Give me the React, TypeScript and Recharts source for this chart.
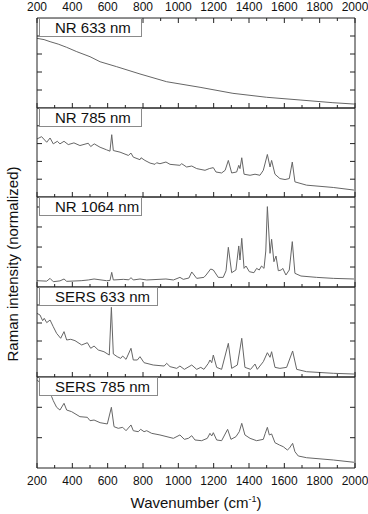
import { LineChart, Line, XAxis, YAxis } from "recharts";

// wavenumber ticks (every 100, labelled every 200)
const xTicks = [200, 300, 400, 500, 600, 700, 800, 900, 1000, 1100, 1200, 1300, 1400, 1500, 1600, 1700, 1800, 1900, 2000];

const panelNames = ["NR 633 nm", "NR 785 nm", "NR 1064 nm", "SERS 633 nm", "SERS 785 nm"];

// [wavenumber, normalized intensity]
const nr633: [number, number][] = [
  [200, 0.774], [240, 0.76], [274, 0.737], [320, 0.71], [368, 0.674], [425, 0.626], [500, 0.57], [557, 0.514],
  [651, 0.459], [783, 0.378], [934, 0.292], [1123, 0.23], [1309, 0.163], [1500, 0.119], [1689, 0.089],
  [1875, 0.059], [1994, 0.044],
];

const nr785: [number, number][] = [
  [200, 0.652], [226, 0.678], [255, 0.615], [274, 0.663], [292, 0.597], [315, 0.626], [330, 0.597], [353, 0.626],
  [377, 0.589], [409, 0.608], [443, 0.578], [490, 0.604], [504, 0.567], [524, 0.597], [557, 0.559], [594, 0.53],
  [613, 0.515], [623, 0.7], [632, 0.522], [670, 0.504], [717, 0.467], [732, 0.493], [745, 0.448], [783, 0.419],
  [789, 0.441], [811, 0.411], [840, 0.381], [868, 0.367], [877, 0.385], [896, 0.374], [930, 0.393], [953, 0.367],
  [1009, 0.356], [1019, 0.374], [1047, 0.337], [1076, 0.348], [1104, 0.319], [1151, 0.3], [1175, 0.319],
  [1198, 0.33], [1213, 0.281], [1245, 0.27], [1265, 0.3], [1283, 0.411], [1302, 0.27], [1330, 0.281], [1342, 0.356],
  [1349, 0.319], [1359, 0.441], [1372, 0.256], [1406, 0.244], [1434, 0.256], [1462, 0.244], [1481, 0.3],
  [1504, 0.478], [1519, 0.337], [1528, 0.411], [1547, 0.256], [1575, 0.207], [1604, 0.196], [1628, 0.207],
  [1645, 0.393], [1660, 0.17], [1726, 0.133], [1877, 0.107], [1994, 0.078],
];

const nr1064: [number, number][] = [
  [200, 0.07], [255, 0.065], [274, 0.096], [292, 0.059], [330, 0.068], [353, 0.089], [368, 0.063], [450, 0.07],
  [490, 0.078], [523, 0.089], [594, 0.07], [613, 0.072], [623, 0.163], [632, 0.078], [689, 0.085], [720, 0.08],
  [732, 0.104], [745, 0.078], [783, 0.089], [821, 0.078], [930, 0.089], [972, 0.078], [1009, 0.107], [1028, 0.085],
  [1060, 0.1], [1076, 0.167], [1104, 0.096], [1145, 0.107], [1157, 0.133], [1183, 0.2], [1198, 0.189], [1226, 0.107],
  [1254, 0.107], [1270, 0.18], [1283, 0.441], [1302, 0.159], [1326, 0.189], [1342, 0.456], [1349, 0.3], [1359, 0.541],
  [1372, 0.207], [1383, 0.233], [1402, 0.17], [1428, 0.159], [1443, 0.207], [1458, 0.189], [1471, 0.233],
  [1485, 0.207], [1495, 0.4], [1504, 0.893], [1519, 0.374], [1528, 0.53], [1541, 0.281], [1553, 0.344],
  [1566, 0.181], [1583, 0.189], [1591, 0.207], [1609, 0.133], [1628, 0.189], [1645, 0.504], [1660, 0.152],
  [1694, 0.122], [1783, 0.107], [1877, 0.096], [1994, 0.089],
];

const sers633: [number, number][] = [
  [200, 0.707], [217, 0.689], [232, 0.626], [241, 0.652], [255, 0.604], [274, 0.633], [292, 0.559], [311, 0.485],
  [334, 0.43], [353, 0.504], [368, 0.411], [391, 0.419], [415, 0.404], [453, 0.356], [485, 0.381], [504, 0.319],
  [523, 0.344], [547, 0.3], [579, 0.281], [609, 0.244], [621, 0.774], [632, 0.256], [654, 0.226], [674, 0.207],
  [685, 0.233], [704, 0.196], [732, 0.319], [745, 0.189], [768, 0.189], [783, 0.226], [806, 0.159], [858, 0.133],
  [920, 0.122], [934, 0.152], [953, 0.115], [991, 0.096], [1009, 0.122], [1034, 0.085], [1076, 0.133], [1104, 0.085],
  [1127, 0.107], [1145, 0.085], [1170, 0.152], [1179, 0.189], [1189, 0.159], [1198, 0.244], [1217, 0.107],
  [1245, 0.085], [1283, 0.374], [1302, 0.096], [1334, 0.133], [1359, 0.43], [1377, 0.107], [1409, 0.085],
  [1434, 0.144], [1447, 0.085], [1481, 0.17], [1504, 0.27], [1519, 0.219], [1528, 0.281], [1547, 0.107],
  [1575, 0.096], [1613, 0.107], [1647, 0.289], [1670, 0.085], [1726, 0.059], [1877, 0.041], [1994, 0.033],
];

const sers785: [number, number][] = [
  [200, 0.97], [250, 0.87], [283, 0.784], [292, 0.74], [311, 0.667], [330, 0.637], [353, 0.711], [368, 0.637],
  [396, 0.619], [443, 0.564], [485, 0.557], [500, 0.52], [523, 0.527], [557, 0.498], [598, 0.484], [621, 0.667],
  [636, 0.454], [660, 0.436], [685, 0.447], [704, 0.41], [732, 0.473], [745, 0.41], [773, 0.399], [787, 0.425],
  [806, 0.399], [821, 0.41], [849, 0.381], [896, 0.363], [972, 0.326], [1009, 0.363], [1034, 0.315], [1057, 0.326],
  [1076, 0.355], [1094, 0.308], [1132, 0.3], [1164, 0.326], [1179, 0.381], [1189, 0.352], [1198, 0.388],
  [1217, 0.308], [1245, 0.3], [1279, 0.425], [1298, 0.315], [1326, 0.344], [1345, 0.399], [1359, 0.491],
  [1377, 0.363], [1406, 0.326], [1443, 0.3], [1481, 0.315], [1492, 0.381], [1504, 0.447], [1515, 0.363],
  [1528, 0.374], [1547, 0.278], [1572, 0.253], [1594, 0.234], [1617, 0.198], [1628, 0.216], [1647, 0.271],
  [1660, 0.179], [1679, 0.132], [1726, 0.113], [1877, 0.088], [1994, 0.063],
];

const series = [nr633, nr785, nr1064, sers633, sers785];

// y tick positions per panel
const yTicks = [
  [0.2, 0.4, 0.6, 0.8],
  [0.2, 0.4, 0.6, 0.8],
  [0.222, 0.444, 0.667, 0.889],
  [0.2, 0.4, 0.6, 0.8],
  [0.333, 0.667],
];

const W = 368;
const H = 514;
const LEFT = 37;
const RIGHT = 355;
const tops = [18, 108, 197, 287, 377];
const bottoms = [108, 197, 287, 377, 468];
const boxWidths = [103, 103, 103, 119, 119];

const AXIS = "#222";
const LINE = "#666";
const FONT = "Arial, 'Liberation Sans', sans-serif";

function XTick(props: any) {
  const { x, y, payload, side, labels } = props;
  const v = payload.value;
  const major = v % 200 === 0;
  const len = major ? 5 : 3;
  const dir = side === "top" ? 1 : -1;
  return (
    <g>
      <line x1={x} x2={x} y1={y} y2={y + dir * len} stroke={AXIS} strokeWidth={1} />
      {labels && major && (
        <text x={x} y={side === "top" ? y - 7.5 : y + 17} textAnchor="middle" fontSize={12} fontFamily={FONT} fill="#111">
          {v}
        </text>
      )}
    </g>
  );
}

function YTick(props: any) {
  const { x, y, side } = props;
  const dir = side === "left" ? 1 : -1;
  return <line x1={x} x2={x + dir * 5} y1={y} y2={y} stroke={AXIS} strokeWidth={1} />;
}

function Panel({ i }: { i: number }) {
  const rows = series[i].map(([w, v]) => ({ w, v }));
  const first = i === 0;
  const last = i === series.length - 1;
  return (
    <div style={{ position: "absolute", left: 0, top: 0 }}>
      <LineChart
        width={W}
        height={H}
        data={rows}
        margin={{ top: tops[i], bottom: H - bottoms[i], left: LEFT, right: W - RIGHT }}
      >
        <XAxis
          xAxisId="b"
          dataKey="w"
          type="number"
          domain={[200, 2000]}
          allowDataOverflow
          ticks={xTicks}
          interval={0}
          orientation="bottom"
          mirror
          tickSize={0}
          tickMargin={0}
          tickLine={false}
          stroke={AXIS}
          tick={(p: any) => <XTick {...p} side="bottom" labels={last} />}
        />
        <XAxis
          xAxisId="t"
          dataKey="w"
          type="number"
          domain={[200, 2000]}
          allowDataOverflow
          ticks={first ? xTicks : []}
          interval={0}
          orientation="top"
          mirror
          tickSize={0}
          tickMargin={0}
          tickLine={false}
          stroke={AXIS}
          tick={(p: any) => <XTick {...p} side="top" labels={first} />}
        />
        <YAxis
          yAxisId="l"
          type="number"
          domain={[0, 1]}
          allowDataOverflow
          ticks={yTicks[i]}
          interval={0}
          orientation="left"
          mirror
          tickSize={0}
          tickMargin={0}
          tickLine={false}
          stroke={AXIS}
          tick={(p: any) => <YTick {...p} side="left" />}
        />
        <YAxis
          yAxisId="r"
          type="number"
          domain={[0, 1]}
          allowDataOverflow
          ticks={yTicks[i]}
          interval={0}
          orientation="right"
          mirror
          tickSize={0}
          tickMargin={0}
          tickLine={false}
          stroke={AXIS}
          tick={(p: any) => <YTick {...p} side="right" />}
        />
        <Line
          xAxisId="b"
          yAxisId="l"
          type="linear"
          dataKey="v"
          stroke={LINE}
          strokeWidth={1}
          dot={false}
          isAnimationActive={false}
        />
      </LineChart>
    </div>
  );
}

export default function App() {
  return (
    <div style={{ position: "absolute", left: 0, top: 0, width: W, height: H, background: "#fff", fontFamily: FONT, overflow: "hidden" }}>
      {series.map((_, i) => (
        <Panel key={i} i={i} />
      ))}
      {panelNames.map((name, i) => (
        <div
          key={name}
          style={{
            position: "absolute",
            left: 39,
            top: tops[i],
            width: boxWidths[i],
            height: 19,
            boxSizing: "border-box",
            border: "1px solid #8a8a8a",
            background: "#fff",
            fontSize: 15,
            lineHeight: "16px",
            paddingLeft: 15,
            paddingTop: 1,
            color: "#111",
            whiteSpace: "nowrap",
          }}
        >
          {name}
        </div>
      ))}
      <div
        style={{
          position: "absolute",
          left: 12,
          top: 264,
          transform: "translate(-50%, -50%) rotate(-90deg)",
          fontSize: 15,
          whiteSpace: "nowrap",
          color: "#111",
        }}
      >
        Raman intensity (normalized)
      </div>
      <div
        style={{
          position: "absolute",
          left: 0,
          width: 392,
          top: 494,
          textAlign: "center",
          fontSize: 15,
          lineHeight: "17px",
          color: "#111",
        }}
      >
        Wavenumber (cm<sup style={{ fontSize: 9, lineHeight: 0 }}>-1</sup>)
      </div>
    </div>
  );
}
